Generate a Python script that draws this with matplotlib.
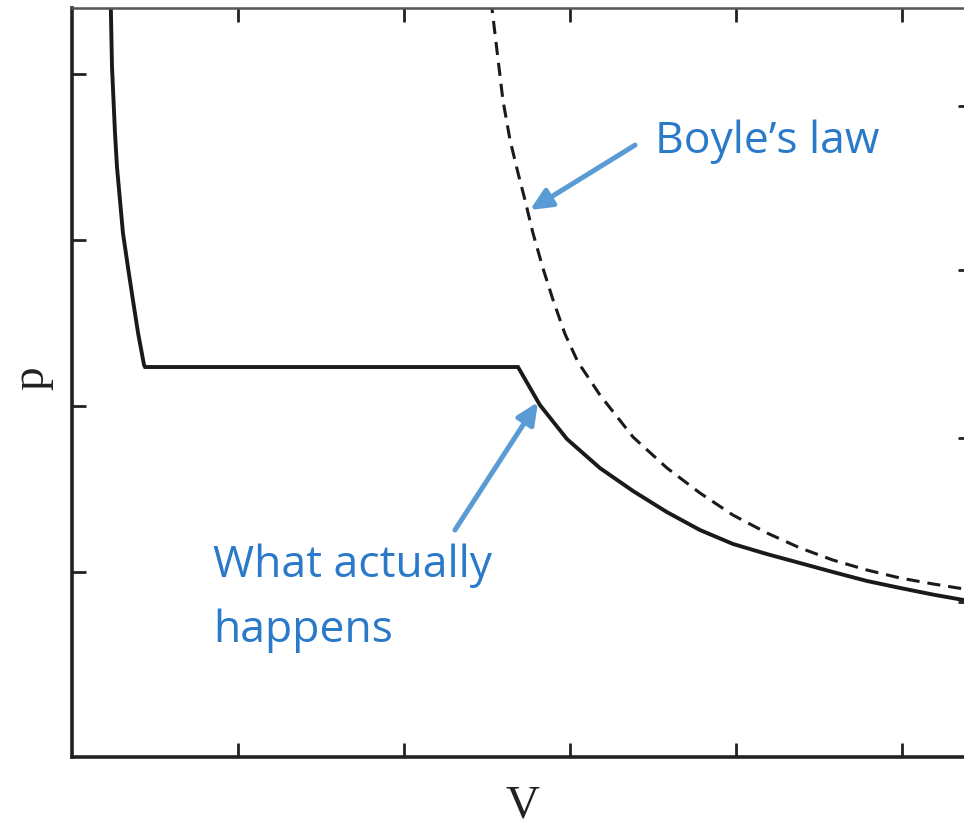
import matplotlib
matplotlib.use("Agg")
import matplotlib.pyplot as plt

# --- data (x = V, y = p, arbitrary units) ---
real_v = [0.233, 0.241, 0.259, 0.271, 0.289, 0.307, 0.337, 0.367, 0.398, 0.434,
          0.440, 2.687, 2.819, 2.982, 3.181, 3.380, 3.584, 3.783, 3.982, 4.187,
          4.386, 4.584, 4.789, 4.988, 5.187, 5.373, 5.45]
real_p = [4.446, 4.042, 3.645, 3.440, 3.241, 3.042, 2.837, 2.639, 2.440, 2.247,
          2.235, 2.235, 2.006, 1.801, 1.626, 1.488, 1.361, 1.253, 1.169, 1.108,
          1.054, 1.000, 0.946, 0.904, 0.864, 0.831, 0.816]

boyle_v = [2.524, 2.560, 2.596, 2.639, 2.687, 2.729, 2.777, 2.837, 2.898, 2.970,
           3.048, 3.181, 3.380, 3.584, 3.783, 3.982, 4.187, 4.386, 4.584, 4.789,
           4.988, 5.187, 5.373, 5.45]
boyle_p = [4.446, 4.145, 3.843, 3.602, 3.404, 3.241, 3.042, 2.831, 2.639, 2.434,
           2.265, 2.066, 1.813, 1.627, 1.476, 1.343, 1.235, 1.145, 1.072, 1.012,
           0.964, 0.928, 0.898, 0.892]

x_ticks = [1, 2, 3, 4, 5]
left_y_ticks = [1, 2, 3, 4]
right_y_ticks = [0.82, 1.81, 2.82, 3.81]

label_boyle = "Boyle\u2019s law"
label_real_1 = "What actually"
label_real_2 = "happens"

W, H = 964, 827
fig = plt.figure(figsize=(W / 100, H / 100), dpi=100)
ax = fig.add_axes([72 / W, 70 / H, 900 / W, 749 / H])

ax.plot(real_v, real_p, color="#1a1a1a", lw=2.8, solid_joinstyle="miter")
ax.plot(boyle_v, boyle_p, color="#1a1a1a", lw=2.2, dashes=(4.3, 2.6))

ax.set_xlim(0, 5.422)
ax.set_ylim(-0.1145, 4.398)

ax.set_xticks(x_ticks)
ax.set_yticks(left_y_ticks)
ax.set_xticklabels([])
ax.set_yticklabels([])
ax.tick_params(direction="in", length=10, width=2.0, color="#222222",
               top=True, right=False)

for s in ["left", "bottom"]:
    ax.spines[s].set_linewidth(2.6)
    ax.spines[s].set_color("#222222")
ax.spines["top"].set_linewidth(1.8)
ax.spines["top"].set_color("#555555")
ax.spines["right"].set_linewidth(2.6)
ax.spines["right"].set_color("#222222")

ax2 = ax.twinx()
ax2.set_ylim(ax.get_ylim())
ax2.set_yticks(right_y_ticks)
ax2.set_yticklabels([])
ax2.tick_params(direction="in", length=10, width=2.0, color="#222222")
for s in ["left", "bottom", "top", "right"]:
    ax2.spines[s].set_visible(False)

serif = ["Liberation Serif", "DejaVu Serif"]
ax.set_xlabel("V", family=serif, fontsize=34, color="#222222", va="center")
ax.xaxis.set_label_coords(0.5, -0.0654)
ax.set_ylabel("p", family=serif, fontsize=34, color="#222222", va="center",
              rotation=90)
ax.yaxis.set_label_coords(-0.0444, 0.506)

text_color = "#2a7ac9"
arrow_color = "#5b9bd5"
sans = ["Open Sans", "DejaVu Sans"]

ax.annotate("", xy=(2.759, 3.181), xytext=(3.392, 3.572),
            arrowprops=dict(arrowstyle="-|>,head_length=1.3,head_width=0.6",
                            color=arrow_color, lw=3.6, shrinkA=0, shrinkB=0))
ax.annotate("", xy=(2.807, 2.024), xytext=(2.307, 1.253),
            arrowprops=dict(arrowstyle="-|>,head_length=1.3,head_width=0.6",
                            color=arrow_color, lw=3.6, shrinkA=0, shrinkB=0))

ax.text(3.512, 3.524, label_boyle, family=sans, fontsize=32, color=text_color,
        ha="left", va="baseline")
ax.text(0.849, 0.970, label_real_1, family=sans, fontsize=32, color=text_color,
        ha="left", va="baseline")
ax.text(0.849, 0.578, label_real_2, family=sans, fontsize=32, color=text_color,
        ha="left", va="baseline")

fig.savefig("out.png", dpi=100)
